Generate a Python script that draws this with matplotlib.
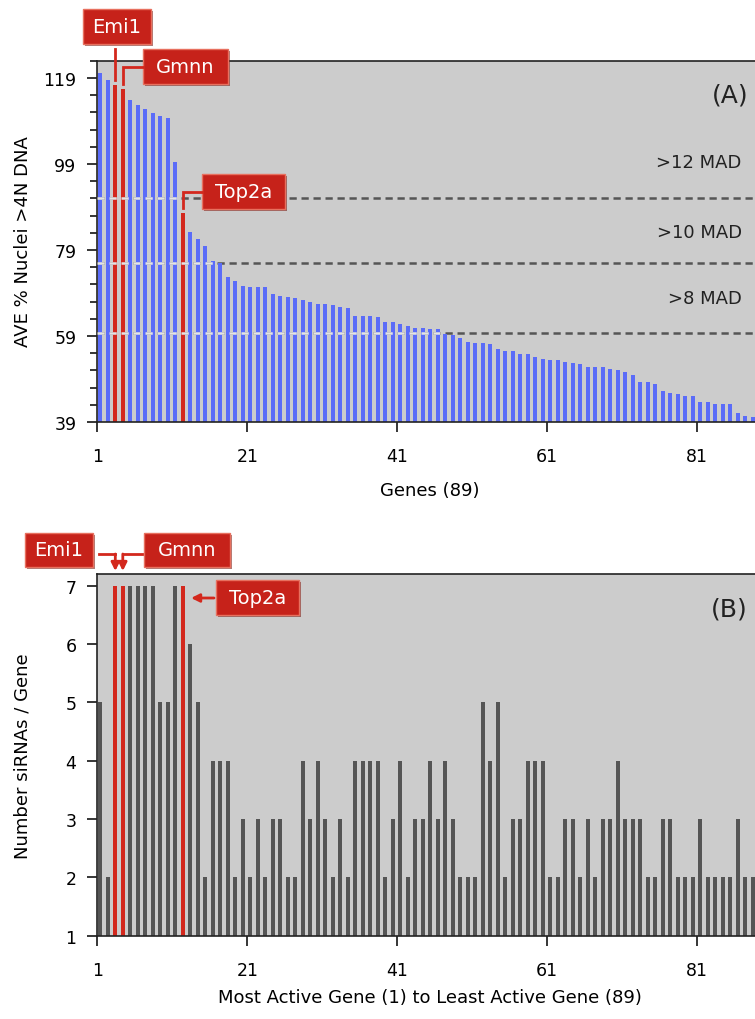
import numpy as np
import matplotlib
matplotlib.use('Agg')
import matplotlib.pyplot as plt
from matplotlib.patches import Rectangle, FancyArrowPatch
from matplotlib.lines import Line2D

plt.rcParams['font.family'] = ['DejaVu Sans']

# ---- data ----
genes = np.arange(1, 90)
nuclei_4n = [120.2, 118.6, 117.4, 116.4, 113.9, 112.7, 111.8, 110.9, 110.2, 109.6,
             99.4, 87.5, 83.1, 81.6, 79.9, 76.5, 76.0, 72.6, 71.7, 70.6,
             70.5, 70.4, 70.4, 68.8, 68.2, 68.1, 67.9, 67.3, 67.0, 66.5,
             66.4, 66.1, 65.7, 65.4, 63.7, 63.6, 63.6, 63.3, 62.3, 62.2,
             61.9, 61.4, 60.9, 60.8, 60.7, 60.6, 59.5, 59.3, 58.6, 57.5,
             57.4, 57.4, 57.1, 56.0, 55.6, 55.6, 54.9, 54.7, 54.1, 53.7,
             53.3, 53.3, 53.0, 52.7, 52.5, 51.9, 51.8, 51.8, 51.3, 51.0,
             50.6, 50.0, 48.2, 48.2, 47.8, 46.3, 45.7, 45.5, 45.1, 45.1,
             43.6, 43.6, 43.3, 43.3, 43.3, 41.1, 40.3, 40.1, 39.8]
sirnas_per_gene = [5, 2, 7, 7, 7, 7, 7, 7, 5, 5,
                   7, 7, 6, 5, 2, 4, 4, 4, 2, 3,
                   2, 3, 2, 3, 3, 2, 2, 4, 3, 4,
                   3, 2, 3, 2, 4, 4, 4, 4, 2, 3,
                   4, 2, 3, 3, 4, 3, 4, 3, 2, 2,
                   2, 5, 4, 5, 2, 3, 3, 4, 4, 4,
                   2, 2, 3, 3, 2, 3, 2, 3, 3, 4,
                   3, 3, 3, 2, 2, 3, 3, 2, 2, 2,
                   3, 2, 2, 2, 2, 3, 2, 2, 2]
callout_genes = {'Emi1': 3, 'Gmnn': 4, 'Top2a': 12}
mad_cutoffs = [91.0, 76.0, 59.7]
mad_labels = ['>12 MAD', '>10 MAD', '>8 MAD']
xticks = [1, 21, 41, 61, 81]

W, H = 755, 1020
RED = '#d3281d'
BLUE = '#5b6cf8'
DARK = '#555555'
BG = '#cccccc'

fig = plt.figure(figsize=(W / 100, H / 100), dpi=100)


def px_axes(left, top, width, height):
    return fig.add_axes([left / W, 1 - (top + height) / H, width / W, height / H])


def to_px(ax, x, y):
    p = ax.transData.transform((x, y))
    return p[0], H - p[1]


def red_box(x0, y0, w, h, s):
    fig.add_artist(Rectangle(((x0 + 2) / W, 1 - (y0 + h + 2) / H), w / W, h / H,
                             transform=fig.transFigure, fc='#6a120c', ec='none', alpha=0.55))
    fig.add_artist(Rectangle((x0 / W, 1 - (y0 + h) / H), w / W, h / H,
                             transform=fig.transFigure, fc='#c6221a', ec='#e8705f', lw=1))
    fig.text((x0 + w / 2) / W, 1 - (y0 + h / 2) / H, s, color='white', fontsize=14,
             ha='center', va='center')


def red_path(points):
    xs = [p[0] / W for p in points]
    ys = [1 - p[1] / H for p in points]
    fig.add_artist(Line2D(xs, ys, transform=fig.transFigure, color=RED, lw=2,
                          solid_joinstyle='miter'))


def red_arrow(p0, p1):
    fig.add_artist(FancyArrowPatch((p0[0] / W, 1 - p0[1] / H), (p1[0] / W, 1 - p1[1] / H),
                                   transform=fig.transFigure, arrowstyle='-|>',
                                   mutation_scale=12, color=RED, lw=2,
                                   shrinkA=0, shrinkB=0))


def style_axes(ax):
    ax.set_facecolor(BG)
    ax.spines['right'].set_visible(False)
    for sp in ['left', 'bottom', 'top']:
        ax.spines[sp].set_color('#222222')
        ax.spines[sp].set_linewidth(1.2)
    ax.set_xlim(1, 89.1)
    ax.set_xticks(xticks)
    ax.tick_params(axis='both', which='major', direction='out', length=7, width=1.1,
                   labelsize=12.5)
    ax.tick_params(axis='x', pad=11)
    ax.tick_params(axis='y', pad=8)
    ax.tick_params(axis='y', which='minor', direction='out', length=5, width=1.1)


ax1 = px_axes(97.3, 61.7, 660.75, 361.3)
ax2 = px_axes(97.3, 575, 660.75, 361.7)
xpos = genes + 0.4
hl = set(callout_genes.values())

# ---- (A) ----
style_axes(ax1)
ax1.bar(xpos, nuclei_4n, width=0.55, color=[RED if g in hl else BLUE for g in genes], zorder=2)
ax1.set_ylim(39, 123)
ax1.set_yticks([39, 59, 79, 99, 119])
ax1.set_yticks(np.arange(39, 124, 4), minor=True)
vals = np.array(nuclei_4n)
for cut in mad_cutoffs:
    ax1.axhline(cut, color=DARK, lw=1.8, dashes=(2.9, 1.9), zorder=1)
    last = genes[vals > cut].max()
    ax1.plot([1, last + 0.75], [cut, cut], color='#e4e4e4', lw=1.8, dashes=(2.9, 1.9), zorder=3)
for lab, yc in zip(mad_labels, [162.7, 233.3, 299.3]):
    fig.text(741.7 / W, 1 - yc / H, lab, ha='right', va='center', fontsize=13, color='#222222')
fig.text(748 / W, 1 - 95 / H, '(A)', ha='right', va='center', fontsize=18, color='#222222')

# ---- (B) ----
style_axes(ax2)
ax2.bar(xpos, sirnas_per_gene, width=0.5,
        color=[RED if g in hl else DARK for g in genes], zorder=2)
ax2.set_ylim(1, 7.2)
ax2.set_yticks(range(1, 8))
fig.text(748 / W, 1 - 610 / H, '(B)', ha='right', va='center', fontsize=18, color='#222222')

# axis labels
fig.text(23 / W, 1 - 242 / H, 'AVE % Nuclei >4N DNA', rotation=90, ha='center', va='center', fontsize=13)
fig.text(23 / W, 1 - 756 / H, 'Number siRNAs / Gene', rotation=90, ha='center', va='center', fontsize=13)
fig.text(430 / W, 1 - 491 / H, 'Genes (89)', ha='center', va='center', fontsize=13)
fig.text(430 / W, 1 - 998 / H, 'Most Active Gene (1) to Least Active Gene (89)',
         ha='center', va='center', fontsize=13)

# ---- callouts (A) ----
g = callout_genes
x3, t3 = to_px(ax1, g['Emi1'] + 0.4, nuclei_4n[g['Emi1'] - 1])
x4, t4 = to_px(ax1, g['Gmnn'] + 0.4, nuclei_4n[g['Gmnn'] - 1])
x12, t12 = to_px(ax1, g['Top2a'] + 0.4, nuclei_4n[g['Top2a'] - 1])
red_path([(x3, 50), (x3, t3 - 5)])
red_path([(143, 68), (x4, 68), (x4, t4 - 5)])
red_path([(201.7, 193), (x12, 193), (x12, t12 - 5)])
red_box(83, 10, 68, 35, 'Emi1')
red_box(143, 50, 85, 35, 'Gmnn')
red_box(201.7, 175, 83.3, 35, 'Top2a')

# ---- callouts (B) ----
bx3, _ = to_px(ax2, g['Emi1'] + 0.4, 7)
bx4, _ = to_px(ax2, g['Gmnn'] + 0.4, 7)
tip, _ = to_px(ax2, g['Top2a'] + 1.5, 7)
red_path([(99, 555), (bx3, 555)])
red_arrow((bx3, 555), (bx3, 572))
red_path([(142, 555), (bx4, 555)])
red_arrow((bx4, 555), (bx4, 572))
red_arrow((214, 599), (tip, 599))
red_box(25, 534, 68, 34, 'Emi1')
red_box(144, 534, 86, 34, 'Gmnn')
red_box(216, 581, 83, 35, 'Top2a')

fig.savefig('out.png', dpi=100, facecolor='white')
